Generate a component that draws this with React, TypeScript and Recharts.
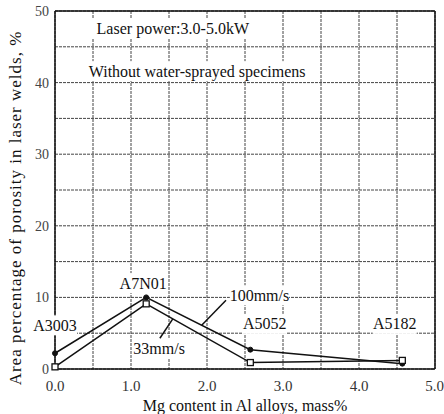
import React from 'react';
import { LineChart, Line, XAxis, YAxis, CartesianGrid, ReferenceLine, ReferenceDot } from 'recharts';

// Mg content of each alloy (mass%) and porosity area (%) at two welding speeds
const alloys = ['A3003', 'A7N01', 'A5052', 'A5182'];
const mgContent = [0.0, 1.2, 2.57, 4.57];
const porosity100 = [2.2, 10.0, 2.7, 0.75];
const porosity33 = [0.3, 9.1, 0.9, 1.2];

const xTicks = [0, 0.5, 1, 1.5, 2, 2.5, 3, 3.5, 4, 4.5, 5];
const yTicks = [0, 5, 10, 15, 20, 25, 30, 35, 40, 45, 50];

// text notes placed in data coordinates
const noteText = ['Laser power:3.0-5.0kW', 'Without water-sprayed specimens', 'A3003', 'A7N01', 'A5052', 'A5182', '100mm/s', '33mm/s'];
const noteX = [1.55, 1.87, 0.0, 1.16, 2.76, 4.47, 2.69, 1.37];
const noteY = [47.6, 41.6, 6.1, 12.0, 6.3, 6.3, 10.3, 2.8];

const data = mgContent.map((mg, i) => ({ mg, alloy: alloys[i], v100: porosity100[i], v33: porosity33[i] }));

const FONT = 'Liberation Serif';

const NoteLabel = (text: string) => (props: any) => {
  const vb = props.viewBox || {};
  const cx = (vb.x || 0) + (vb.width || 0) / 2;
  const cy = (vb.y || 0) + (vb.height || 0) / 2;
  const w = text.length * 7.6 + 6;
  return (
    <g>
      <rect x={cx - w / 2} y={cy - 10} width={w} height={20} fill="#fff" />
      <text x={cx} y={cy} textAnchor="middle" dominantBaseline="central" fontSize={16} fontFamily={FONT} fill="#111">
        {text}
      </text>
    </g>
  );
};

const SquareDot = (props: any) => {
  const { cx, cy } = props;
  if (cx == null || cy == null) return null;
  return <rect x={cx - 3} y={cy - 3} width={6} height={6} fill="#fff" stroke="#111" strokeWidth={1.3} />;
};

const App: React.FC = () => {
  return (
    <div style={{ position: 'absolute', left: 0, top: 0, background: '#fff' }}>
      <LineChart width={444} height={414} data={data} margin={{ top: 11, right: 9, left: 0, bottom: 0 }}>
        <CartesianGrid stroke="#444" strokeDasharray="3 1" strokeWidth={1} />
        <XAxis
          dataKey="mg"
          type="number"
          domain={[0, 5]}
          ticks={xTicks}
          tickFormatter={(v: number) => (Number.isInteger(v) ? v.toFixed(1) : '')}
          tickLine={false}
          tickSize={0}
          tickMargin={11}
          axisLine={{ stroke: '#111', strokeWidth: 1.5 }}
          tick={{ fontSize: 15, fill: '#333', fontFamily: FONT }}
          height={45}
          label={{ value: 'Mg content in Al alloys, mass%', position: 'insideBottom', offset: 3, fontSize: 16, fill: '#111', fontFamily: FONT }}
        />
        <YAxis
          type="number"
          domain={[0, 50]}
          ticks={yTicks}
          tickFormatter={(v: number) => (v % 10 === 0 ? String(v) : '')}
          tickLine={false}
          tickSize={0}
          tickMargin={6}
          width={55}
          axisLine={{ stroke: '#111', strokeWidth: 1.5 }}
          tick={{ fontSize: 14, fill: '#444', fontFamily: FONT }}
          label={{
            content: (p: any) => {
              const vb = p.viewBox || { y: 11, height: 358 };
              const y = vb.y + vb.height / 2 + 18;
              return (
                <text x={15} y={y} transform={`rotate(-90, 15, ${y})`} textAnchor="middle" dominantBaseline="central" fontSize={17} letterSpacing={1} fontFamily={FONT} fill="#111">
                  Area percentage of porosity in laser welds, %
                </text>
              );
            },
          }}
        />
        <ReferenceLine y={50} stroke="#111" strokeWidth={1.5} />
        <ReferenceLine x={5} stroke="#111" strokeWidth={1.5} />
        <ReferenceLine segment={[{ x: 1.38, y: 4.3 }, { x: 1.55, y: 7.0 }]} stroke="#111" strokeWidth={1.5} />
        <ReferenceLine segment={[{ x: 2.25, y: 9.6 }, { x: 1.93, y: 6.1 }]} stroke="#111" strokeWidth={1.5} />
        <Line
          dataKey="v100"
          name="100mm/s"
          type="linear"
          stroke="#111"
          strokeWidth={1.5}
          dot={{ r: 2.5, fill: '#111', stroke: '#111', strokeWidth: 1 }}
          isAnimationActive={false}
        />
        <Line
          dataKey="v33"
          name="33mm/s"
          type="linear"
          stroke="#111"
          strokeWidth={1.5}
          dot={<SquareDot />}
          isAnimationActive={false}
        />
        {noteText.map((t, i) => (
          <ReferenceDot key={t} x={noteX[i]} y={noteY[i]} r={0} fill="none" stroke="none" label={NoteLabel(t)} />
        ))}
      </LineChart>
    </div>
  );
};

export default App;
